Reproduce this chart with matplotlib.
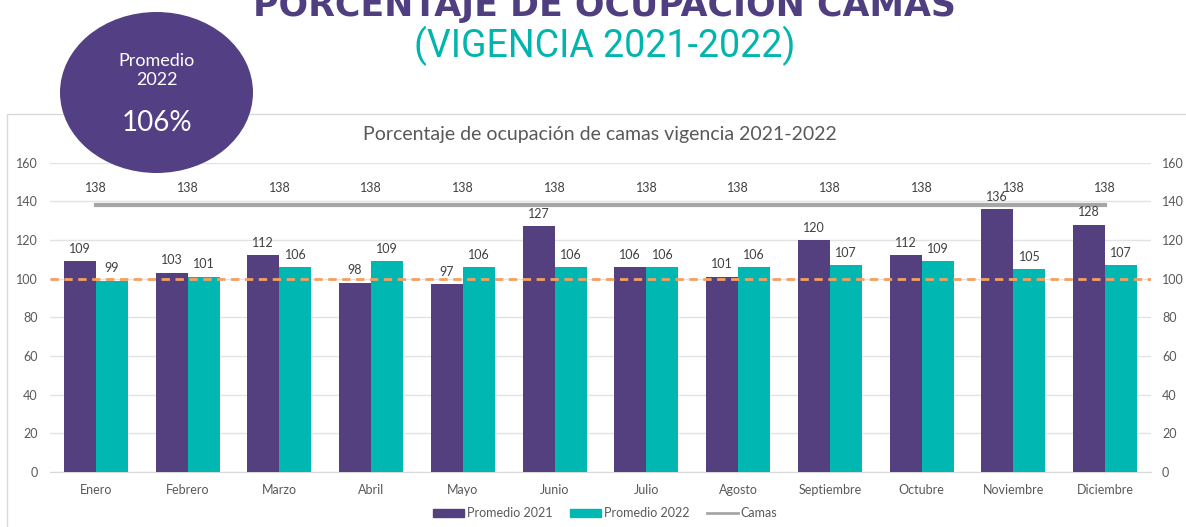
import numpy as np
import matplotlib
matplotlib.use("Agg")
import matplotlib.pyplot as plt
from matplotlib.patches import Ellipse, Rectangle, Patch
from matplotlib.lines import Line2D

# -------------------------
# Data
# -------------------------
meses = ["Enero", "Febrero", "Marzo", "Abril", "Mayo", "Junio", "Julio",
         "Agosto", "Septiembre", "Octubre", "Noviembre", "Diciembre"]
prom_2021 = [109, 103, 112, 98, 97, 127, 106, 101, 120, 112, 136, 128]
prom_2022 = [99, 101, 106, 109, 106, 106, 106, 106, 107, 109, 105, 107]
camas = [138] * 12
meta = 100
promedio_2022 = "106%"

# -------------------------
# Styles
# -------------------------
purple = "#54407F"
teal = "#00B8B1"
gray_line = "#A6A6A6"
orange = "#F5A061"
txt_gray = "#595959"

W, H = 1186, 527
fig = plt.figure(figsize=(W / 100, H / 100), dpi=100)
plt.rcParams['font.family'] = ['Lato', 'DejaVu Sans']

# chart frame
fig.patches.append(Rectangle((7 / W, -0.1), 1.2, 1 - 114 / H + 0.1, transform=fig.transFigure,
                             facecolor="none", edgecolor="#D9D9D9", linewidth=1.0, zorder=0))

ax = fig.add_axes([50 / W, 1 - 472 / H, 1101 / W, (472 - 162.7) / H])
ax.patch.set_alpha(0)
x = np.arange(len(meses))
bw = 0.35

ax.bar(x - bw / 2, prom_2021, bw, color=purple, zorder=3)
ax.bar(x + bw / 2, prom_2022, bw, color=teal, zorder=3)
ax.plot(x, camas, color=gray_line, linewidth=3, zorder=2)
ax.axhline(meta, color=orange, linewidth=2, linestyle=(0, (3, 2)), zorder=4)

for xi, v in zip(x - bw / 2, prom_2021):
    ax.annotate(str(v), (xi, v), xytext=(0, 9), textcoords="offset points",
                ha="center", va="center", fontsize=9, color="#404040", zorder=5)
for xi, v in zip(x + bw / 2, prom_2022):
    ax.annotate(str(v), (xi, v), xytext=(0, 9), textcoords="offset points",
                ha="center", va="center", fontsize=9, color="#404040", zorder=5)
for xi, v in zip(x, camas):
    ax.annotate(str(v), (xi, v), xytext=(0, 12.5), textcoords="offset points",
                ha="center", va="center", fontsize=9, color="#404040", zorder=5)

ax.set_xlim(-0.5, len(meses) - 0.5)
ax.set_ylim(0, 160)
ax.set_yticks(range(0, 161, 20))
ax.set_xticks(x)
ax.set_xticklabels(meses)
ax.tick_params(axis="both", length=0, labelsize=9, labelcolor=txt_gray)
ax.tick_params(axis="x", pad=9)
ax.tick_params(axis="y", pad=9)
ax.grid(axis="y", color="#E3E3E3", linewidth=1, zorder=0)
for s in ax.spines.values():
    s.set_visible(False)
ax.spines["bottom"].set_visible(True)
ax.spines["bottom"].set_color("#D9D9D9")

ax2 = ax.twinx()
ax2.set_ylim(0, 160)
ax2.set_yticks(range(0, 161, 20))
ax2.tick_params(axis="y", length=0, labelsize=9, labelcolor=txt_gray, pad=8)
for s in ax2.spines.values():
    s.set_visible(False)

# chart title
fig.text(600 / W, 1 - 135 / H, "Porcentaje de ocupación de camas vigencia 2021-2022",
         ha="center", va="center", fontsize=14, color=txt_gray)

# legend
handles = [Patch(color=purple), Patch(color=teal), Line2D([], [], color=gray_line, linewidth=2)]
fig.legend(handles, ["Promedio 2021", "Promedio 2022", "Camas"], loc="center",
           bbox_to_anchor=(605 / W, 1 - 513 / H), ncol=3, frameon=False, fontsize=9,
           handlelength=2.5, handleheight=0.6, handletextpad=0.2, columnspacing=1.4,
           labelcolor=txt_gray)

# page titles
fig.text(604 / W, 1 - 6 / H, "PORCENTAJE DE OCUPACION CAMAS", ha="center", va="center",
         fontsize=25, fontweight="bold", color="#4F3E80", family="DejaVu Sans")
fig.text(605 / W, 1 - 46 / H, "(VIGENCIA 2021-2022)", ha="center", va="center",
         fontsize=27, color="#00B5AD", family="Roboto")

# promedio bubble
fig.patches.append(Ellipse((156.5 / W, 1 - 92.5 / H), 193 / W, 161 / H, transform=fig.transFigure,
                           facecolor="#533F83", edgecolor="none", zorder=10))
fig.text(157 / W, 1 - 61 / H, "Promedio", ha="center", va="center", fontsize=13,
         color="white", zorder=11)
fig.text(157 / W, 1 - 80 / H, "2022", ha="center", va="center", fontsize=13,
         color="white", zorder=11)
fig.text(157 / W, 1 - 123 / H, promedio_2022, ha="center", va="center", fontsize=20,
         color="white", zorder=11)

fig.savefig("out.png", dpi=100)
